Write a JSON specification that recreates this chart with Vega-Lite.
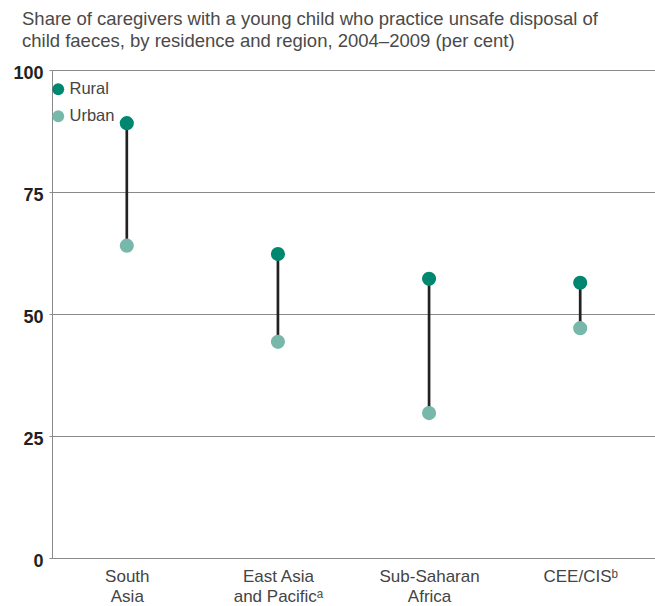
{
  "$schema": "https://vega.github.io/schema/vega-lite/v6.json",
  "width": 603,
  "height": 488,
  "autosize": {"type": "none"},
  "padding": {"left": 52, "top": 70, "right": 0, "bottom": 48},
  "background": "white",
  "title": {
    "text": ["Share of caregivers with a young child who practice unsafe disposal of", "child faeces, by residence and region, 2004–2009 (per cent)"],
    "anchor": "start",
    "frame": "group",
    "dx": -30,
    "font": "Liberation Sans",
    "fontSize": 18.5,
    "fontWeight": "normal",
    "color": "#4a4a4a",
    "lineHeight": 22,
    "baseline": "top",
    "offset": 14
  },
  "config": {
    "view": {"stroke": null},
    "font": "Liberation Sans"
  },
  "data": {
    "values": [
      {"region": "South Asia", "residence": "Rural", "value": 89.1},
      {"region": "South Asia", "residence": "Urban", "value": 64.0},
      {"region": "East Asia and Pacificᵃ", "residence": "Rural", "value": 62.3},
      {"region": "East Asia and Pacificᵃ", "residence": "Urban", "value": 44.3},
      {"region": "Sub-Saharan Africa", "residence": "Rural", "value": 57.2},
      {"region": "Sub-Saharan Africa", "residence": "Urban", "value": 29.7},
      {"region": "CEE/CISᵇ", "residence": "Rural", "value": 56.4},
      {"region": "CEE/CISᵇ", "residence": "Urban", "value": 47.1}
    ]
  },
  "encoding": {
    "x": {
      "field": "region",
      "type": "nominal",
      "sort": null,
      "scale": {"type": "point", "padding": 0.495},
      "axis": {
        "title": null,
        "domain": false,
        "ticks": false,
        "labelAngle": 0,
        "labelFontSize": 17,
        "labelColor": "#444444",
        "labelBaseline": "top",
        "labelLineHeight": 20,
        "labelPadding": 10,
        "labelExpr": "datum.label == 'South Asia' ? ['South', 'Asia'] : datum.label == 'Sub-Saharan Africa' ? ['Sub-Saharan', 'Africa'] : datum.label == 'CEE/CISᵇ' ? 'CEE/CISᵇ' : ['East Asia', 'and Pacificᵃ']"
      }
    }
  },
  "layer": [
    {
      "mark": {"type": "rule", "color": "#222222", "strokeWidth": 2.7},
      "encoding": {
        "y": {
          "aggregate": "min",
          "field": "value",
          "type": "quantitative",
          "scale": {"domain": [0, 100]},
          "axis": {
            "title": null,
            "values": [0, 25, 50, 75, 100],
            "grid": true,
            "gridColor": "#8a8a8a",
            "gridWidth": 1,
            "domainColor": "#8a8a8a",
            "tickColor": "#8a8a8a",
            "tickSize": 3,
            "labelPadding": 6,
            "labelFontSize": 18,
            "labelFontWeight": "bold",
            "labelColor": "#222222",
            "labelOffset": 3
          }
        },
        "y2": {"aggregate": "max", "field": "value"}
      }
    },
    {
      "mark": {"type": "circle", "size": 200, "opacity": 1},
      "encoding": {
        "y": {"field": "value", "type": "quantitative"},
        "color": {
          "field": "residence",
          "type": "nominal",
          "scale": {"domain": ["Rural", "Urban"], "range": ["#00876F", "#77B8AA"]},
          "legend": {
            "title": null,
            "orient": "none",
            "legendX": -2,
            "legendY": 11,
            "symbolSize": 140,
            "symbolType": "circle",
            "symbolOpacity": 1,
            "labelFontSize": 16.5,
            "labelColor": "#444444",
            "labelOffset": 3,
            "rowPadding": 10,
            "padding": 0
          }
        }
      }
    }
  ]
}
